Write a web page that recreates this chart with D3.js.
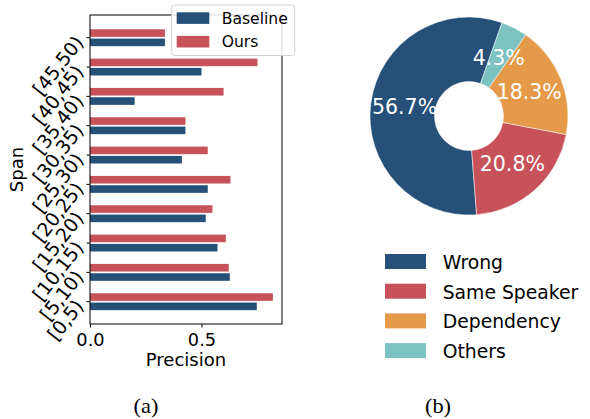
<!DOCTYPE html>
<html>
<head>
<meta charset="utf-8">
<script src="https://cdn.jsdelivr.net/npm/d3@7"></script>
<style>
  html, body { margin: 0; padding: 0; background: #fff; }
  svg { display: block; }
  text { font-family: "DejaVu Sans", sans-serif; fill: #000; }
</style>
</head>
<body>
<svg id="chart" width="590" height="419"></svg>
<script>
// ---- Data ----
const spans = ["[0,5)", "[5,10)", "[10,15)", "[15,20)", "[20,25)", "[25,30)", "[30,35)", "[35,40)", "[40,45)", "[45,50)"];
const baseline = [0.748, 0.627, 0.572, 0.519, 0.528, 0.412, 0.428, 0.200, 0.500, 0.336];
const ours     = [0.820, 0.622, 0.609, 0.549, 0.630, 0.528, 0.428, 0.599, 0.751, 0.336];
const barSeries = ["Baseline", "Ours"];
const xTicks = [0.0, 0.5];

const errCats = ["Wrong", "Same Speaker", "Dependency", "Others"];
const errVals = [56.7, 20.8, 18.3, 4.3];

const navy = "#265078", red = "#C8525A", orange = "#E59A49", teal = "#7CC2C1";

const svg = d3.select("#chart");

// ---- (a) Bar chart ----
const ax = { left: 90, right: 282, top: 15, bottom: 324 };
const x = d3.scaleLinear().domain([0, 0.861]).range([ax.left, ax.right]);
const y = d3.scaleLinear().domain([-0.76, 9.775]).range([ax.bottom, ax.top]);
const barH = 7.6, off = 4.65;

const gA = svg.append("g");
gA.selectAll("rect.ours").data(spans).join("rect")
  .attr("x", x(0)).attr("y", (d, i) => y(i) - off - barH / 2)
  .attr("width", (d, i) => x(ours[i]) - x(0)).attr("height", barH)
  .attr("fill", red);
gA.selectAll("rect.base").data(spans).join("rect")
  .attr("x", x(0)).attr("y", (d, i) => y(i) + off - barH / 2)
  .attr("width", (d, i) => x(baseline[i]) - x(0)).attr("height", barH)
  .attr("fill", navy);

// spines
gA.append("rect").attr("x", ax.left).attr("y", ax.top)
  .attr("width", ax.right - ax.left).attr("height", ax.bottom - ax.top)
  .attr("fill", "none").attr("stroke", "#000").attr("stroke-width", 1);

// x axis
const xAxis = d3.axisBottom(x).tickValues(xTicks).tickFormat(d3.format(".1f")).tickSize(3.5).tickPadding(3.5);
const gx = gA.append("g").attr("transform", `translate(0,${ax.bottom})`).call(xAxis);
gx.select(".domain").remove();
gx.selectAll("text").attr("font-size", "17.8px").attr("font-family", "DejaVu Sans").attr("fill", "#000")
  .attr("dy", null).attr("y", 21.7);
gx.selectAll("line").attr("stroke", "#000");

// y axis ticks
const gy = gA.append("g");
gy.selectAll("line").data(spans).join("line")
  .attr("x1", ax.left - 3.5).attr("x2", ax.left)
  .attr("y1", (d, i) => y(i)).attr("y2", (d, i) => y(i))
  .attr("stroke", "#000");
gy.selectAll("text").data(spans).join("text")
  .attr("transform", (d, i) => `translate(${ax.left - 11},${y(i) + 0.5}) rotate(-52)`)
  .attr("text-anchor", "end").attr("dominant-baseline", "central")
  .attr("font-size", "19px")
  .text(d => d);

gA.append("text").attr("x", (ax.left + ax.right) / 2).attr("y", 366.4)
  .attr("text-anchor", "middle").attr("font-size", "18px").text("Precision");
gA.append("text").attr("transform", `translate(23,${(ax.top + ax.bottom) / 2}) rotate(-90)`)
  .attr("text-anchor", "middle").attr("font-size", "18px").text("Span");

// legend
const lg = gA.append("g");
lg.append("rect").attr("x", 171.7).attr("y", 5).attr("width", 123).attr("height", 50.5)
  .attr("rx", 3).attr("fill", "#fff").attr("fill-opacity", 0.85)
  .attr("stroke", "#d0d0d0").attr("stroke-width", 1);
const legendColors = [navy, red];
barSeries.forEach((s, i) => {
  lg.append("rect").attr("x", 176.7).attr("y", 12.3 + i * 23.6).attr("width", 32.6).attr("height", 11.6)
    .attr("fill", legendColors[i]);
  lg.append("text").attr("x", 221.7).attr("y", 24 + i * 22.7).attr("font-size", "15.6px").text(s);
});

// ---- (b) Donut ----
const cx = 469, cy = 116, R = 99, r0 = 34.5;
const a0 = 19.5 * Math.PI / 180;
const pie = d3.pie().sort(null).value(d => d).startAngle(a0).endAngle(a0 - 2 * Math.PI);
const arcs = pie(errVals);
const colors = [navy, red, orange, teal];
const arc = d3.arc().innerRadius(r0).outerRadius(R);
const labelArc = d3.arc().innerRadius(65).outerRadius(65);
const gB = svg.append("g").attr("transform", `translate(${cx},${cy})`);
gB.selectAll("path").data(arcs).join("path")
  .attr("d", arc).attr("fill", (d, i) => colors[i])
  .attr("stroke", "#fff").attr("stroke-width", 0.5);
gB.selectAll("text").data(arcs).join("text")
  .attr("transform", d => `translate(${labelArc.centroid(d)})`)
  .attr("text-anchor", "middle").attr("dominant-baseline", "central")
  .attr("font-size", "20.5px").style("fill", "#fff")
  .text(d => d.data.toFixed(1) + "%");

// donut legend
const gL = svg.append("g");
errCats.forEach((c, i) => {
  gL.append("rect").attr("x", 385).attr("y", 254 + i * 29.7).attr("width", 41).attr("height", 15)
    .attr("fill", colors[i]);
  gL.append("text").attr("x", 442.7).attr("y", 269 + i * 29.6).attr("font-size", "18.8px").text(c);
});

// captions
svg.append("text").attr("transform", "translate(146,413) scale(1.12,1)").attr("text-anchor", "middle")
  .style("font-family", "'Liberation Serif', serif")
  .attr("font-size", "20px").text("(a)");
svg.append("text").attr("transform", "translate(438,413) scale(1.12,1)").attr("text-anchor", "middle")
  .style("font-family", "'Liberation Serif', serif")
  .attr("font-size", "20px").text("(b)");
</script>
</body>
</html>
